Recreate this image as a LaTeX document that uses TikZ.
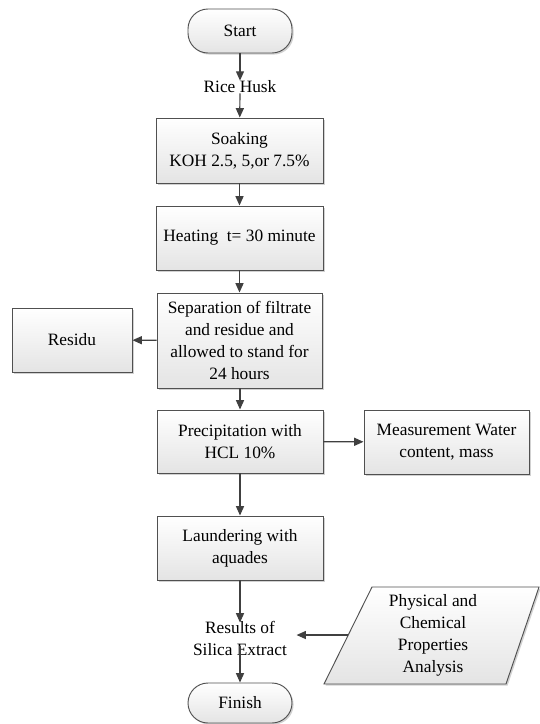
\documentclass[tikz,border=0pt]{standalone}
\usepackage{fontspec}
\setmainfont{Liberation Serif}
\usetikzlibrary{arrows.meta,shadows,calc}
\definecolor{edgegray}{HTML}{505050}
\definecolor{arrowgray}{HTML}{404040}
\definecolor{fillbot}{HTML}{E4E4E4}
\begin{document}
\begin{tikzpicture}[x=0.75pt,y=-0.75pt,
  font=\fontsize{13}{16.5}\selectfont,
  boxstyle/.style={draw=edgegray,line width=0.7pt,top color=white,bottom color=fillbot,
    align=center,inner sep=2pt,
    drop shadow={opacity=0.18,shadow xshift=1.2pt,shadow yshift=-1.2pt,fill=black}},
  termstyle/.style={boxstyle,rounded corners=15pt},
  plaintext/.style={align=center,inner sep=0pt},
  arr/.style={draw=arrowgray,line width=0.9pt,-{Triangle[length=7pt,width=6pt]}}]
\useasboundingbox (0,0) rectangle (539,724);

\node[termstyle,minimum width=78pt,minimum height=33pt] (start) at (240,31) {Start};
\node[plaintext] (rice) at (240,87) {Rice Husk};
\node[boxstyle,minimum width=125.25pt,minimum height=48.75pt] (soak) at (239.5,150.5) {Soaking\\KOH 2.5, 5,or 7.5\%};
\node[boxstyle,minimum width=125.25pt,minimum height=48pt] (heat) at (239.5,238) {Heating~~t= 30 minute};
\node[boxstyle,minimum width=123.75pt,minimum height=71.25pt] (sep) at (239.5,340.5) {Separation of filtrate\\and residue and\\allowed to stand for\\24 hours};
\node[boxstyle,minimum width=90pt,minimum height=48pt] (residu) at (72,340) {Residu};
\node[boxstyle,minimum width=124.5pt,minimum height=47.25pt] (prec) at (240,441.5) {Precipitation with\\HCL 10\%};
\node[boxstyle,minimum width=123.75pt,minimum height=48pt] (meas) at (446.5,442) {Measurement Water\\content, mass};
\node[boxstyle,minimum width=124.5pt,minimum height=48pt] (laund) at (240,548) {Laundering with\\aquades};
\node[plaintext,inner xsep=7pt] (res) at (240,638) {Results of\\Silica Extract};
\node[termstyle,minimum width=78pt,minimum height=30pt] (finish) at (240,703) {Finish};

% parallelogram
\coordinate (p1) at (372,587);
\coordinate (p2) at (539,587);
\coordinate (p3) at (506,684);
\coordinate (p4) at (324,684);
\fill[black,opacity=0.18] ([xshift=1.2pt,yshift=-1.2pt]p1) -- ([xshift=1.2pt,yshift=-1.2pt]p2) -- ([xshift=1.2pt,yshift=-1.2pt]p3) -- ([xshift=1.2pt,yshift=-1.2pt]p4) -- cycle;
\draw[draw=edgegray,line width=0.7pt,top color=white,bottom color=fillbot] (p1) -- (p2) -- (p3) -- (p4) -- cycle;
\node[plaintext] (phys) at (433,635) {Physical and\\Chemical\\Properties\\Analysis};
\coordinate (pl) at ($(p1)!0.495!(p4)$);

\draw[arr] (start) -- (rice);
\draw[arr] (rice) -- (soak);
\draw[arr] (soak) -- (heat);
\draw[arr] (heat) -- (sep);
\draw[arr] (sep) -- (residu);
\draw[arr] (sep.south -| prec.north) -- (prec);
\draw[arr] (prec) -- (meas);
\draw[arr] (prec) -- (laund);
\draw[arr] (laund.south) -- ([yshift=-1.5pt]res.north);
\draw[arr] ([yshift=-6pt]res.center) -- (finish.north);
\draw[arr] (pl) -- (pl -| res.east);
\end{tikzpicture}
\end{document}
